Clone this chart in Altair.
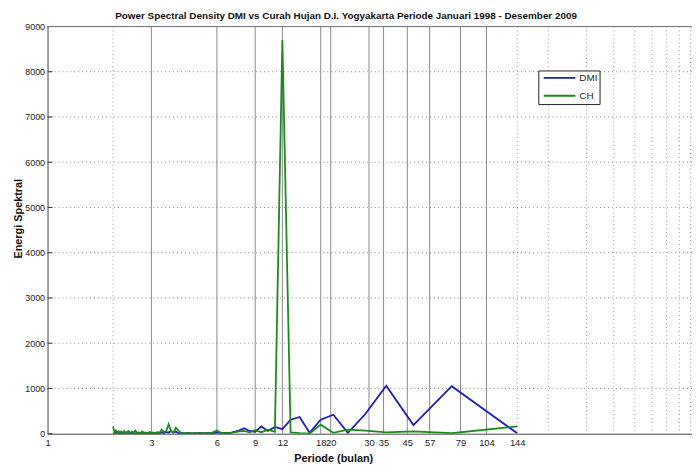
import altair as alt
import pandas as pd

# Periods (months) of the spectral estimates, 144/k for k = 1..72
periods = [144, 72, 48, 36, 28.8, 24, 20.57, 18, 16, 14.4, 13.09, 12,
           11.08, 10.29, 9.6, 9, 8.47, 8, 7.58, 7.2, 6.86, 6.55, 6.26, 6,
           5.76, 5.54, 5.33, 5.14, 4.97, 4.8, 4.65, 4.5, 4.36, 4.24, 4.11, 4,
           3.89, 3.79, 3.69, 3.6, 3.51, 3.43, 3.35, 3.27, 3.2, 3.13, 3.06, 3,
           2.94, 2.88, 2.82, 2.77, 2.72, 2.67, 2.62, 2.57, 2.53, 2.48, 2.44, 2.4,
           2.36, 2.32, 2.29, 2.25, 2.22, 2.18, 2.15, 2.12, 2.09, 2.06, 2.03, 2]

dmi = [10, 1050, 190, 1060, 430, 20, 420, 310, 20, 370, 310, 100,
       150, 60, 160, 40, 60, 120, 70, 40, 10, 20, 10, 30,
       5, 15, 10, 5, 20, 10, 5, 15, 10, 5, 20, 10,
       50, 20, 60, 20, 40, 10, 30, 5, 20, 10, 5, 15,
       10, 5, 10, 20, 5, 10, 5, 15, 5, 10, 20, 5,
       10, 5, 15, 10, 5, 20, 5, 10, 5, 15, 5, 10]

ch = [160, 10, 50, 30, 70, 90, 20, 200, 0, 10, 30, 8700,
      40, 90, 30, 80, 30, 60, 50, 30, 20, 10, 20, 70,
      30, 5, 10, 20, 5, 10, 5, 15, 5, 10, 20, 70,
      130, 30, 60, 210, 60, 30, 90, 20, 40, 10, 30, 20,
      40, 10, 30, 20, 50, 10, 30, 20, 70, 20, 50, 10,
      60, 40, 20, 60, 10, 50, 30, 60, 20, 70, 40, 160]

series_names = ["DMI", "CH"]
series_colors = ["#1c1cb4", "#1a8a1a"]

solid_lines = [3, 6, 9, 12, 18, 20, 30, 35, 45, 57, 79, 104]
dotted_lines = [2, 144, 200, 300, 400, 500, 600, 700, 800, 900]
x_ticks = [1, 3, 6, 9, 12, 18, 20, 30, 35, 45, 57, 79, 104, 144]
y_ticks = [0, 1000, 2000, 3000, 4000, 5000, 6000, 7000, 8000, 9000]
y_grid = [1000, 2000, 3000, 4000, 5000, 6000, 7000, 8000]

df = pd.DataFrame({
    "Periode": periods * 2,
    "Energi": dmi + ch,
    "Seri": ["DMI"] * len(periods) + ["CH"] * len(periods),
})

xscale = alt.Scale(type="log", domain=[1, 915], nice=False)
yscale = alt.Scale(domain=[0, 9000], nice=False)

FONT = "Liberation Sans"

x_axis = alt.Axis(values=x_ticks, grid=False, tickSize=0, labelPadding=4,
                  labelFontSize=9.5, labelFont=FONT, labelColor="#222",
                  domainColor="#555", labelFlush=False, labelOverlap=False,
                  title="Periode (bulan)", titleFont=FONT, titleFontSize=11,
                  titleFontWeight="bold", titleColor="#111",
                  titleX=289, titleY=19, titleAnchor="middle")
y_axis = alt.Axis(values=y_ticks, grid=False, tickSize=0, labelPadding=3,
                  labelFontSize=9, labelFont=FONT, labelColor="#222",
                  domainColor="#555", format="d",
                  title="Energi Spektral", titleFont=FONT, titleFontSize=11,
                  titleFontWeight="bold", titleColor="#111",
                  titleX=-24, titleY=194, titleAnchor="middle")

solid = alt.Chart(pd.DataFrame({"p": solid_lines})).mark_rule(
    color="#8a8a8a", strokeWidth=1).encode(
    x=alt.X("p:Q", scale=xscale, axis=x_axis))

dotted = alt.Chart(pd.DataFrame({"p": dotted_lines})).mark_rule(
    color="#9a9a9a", strokeWidth=1, strokeDash=[1, 3]).encode(
    x=alt.X("p:Q", scale=xscale))

hgrid = alt.Chart(pd.DataFrame({"v": y_grid})).mark_rule(
    color="#8a8a8a", strokeWidth=1, strokeDash=[1, 3]).encode(
    y=alt.Y("v:Q", scale=yscale, axis=y_axis))

yticks_in = alt.Chart(pd.DataFrame({"v": y_ticks})).mark_rule(
    color="#333", strokeWidth=1).encode(
    y=alt.Y("v:Q", scale=yscale), x=alt.value(0), x2=alt.value(5))

top_border = alt.Chart(pd.DataFrame({"v": [9000]})).mark_rule(
    color="#777", strokeWidth=1).encode(
    y=alt.Y("v:Q", scale=yscale))

color = alt.Color("Seri:N",
                  scale=alt.Scale(domain=series_names, range=series_colors),
                  legend=None)


def line_layer(name):
    return alt.Chart(df).transform_filter(
        alt.datum.Seri == name).mark_line(strokeWidth=1.8, clip=True).encode(
        x=alt.X("Periode:Q", scale=xscale),
        y=alt.Y("Energi:Q", scale=yscale),
        color=color,
        order=alt.Order("Periode:Q"))


# Legend box (MATLAB style), built from the series names and colours
one = pd.DataFrame({"a": [0]})
legend_layers = [alt.Chart(one).mark_rect(
    fill="white", stroke="#222", strokeWidth=1).encode(
    x=alt.value(497), x2=alt.value(559), y=alt.value(45), y2=alt.value(79))]
for i, (name, col) in enumerate(zip(series_names, series_colors)):
    legend_layers.append(alt.Chart(one).mark_rule(strokeWidth=2, color=col).encode(
        x=alt.value(502), x2=alt.value(534), y=alt.value(52 + 18 * i)))
    legend_layers.append(alt.Chart(one).mark_text(
        align="left", baseline="middle", font=FONT, fontSize=10,
        color="#222", text=name).encode(
        x=alt.value(538), y=alt.value(52 + 18 * i)))

chart = alt.layer(
    dotted, solid, hgrid, yticks_in, top_border,
    line_layer("DMI"), line_layer("CH"),
    *legend_layers,
).properties(
    width=652, height=412,
    title=alt.Title("Power Spectral Density DMI vs Curah Hujan D.I. Yogyakarta Periode Januari 1998 - Desember 2009",
                    font=FONT, fontSize=10, fontWeight="bold", color="#111",
                    anchor="middle", dx=-24, offset=2),
    autosize=alt.AutoSizeParams(type="none"),
    padding={"left": 40, "top": 16, "right": 0, "bottom": 32},
).configure_view(strokeWidth=0).configure(background="white")

chart.save("out.html", embed_options={"renderer": "svg", "actions": False})
